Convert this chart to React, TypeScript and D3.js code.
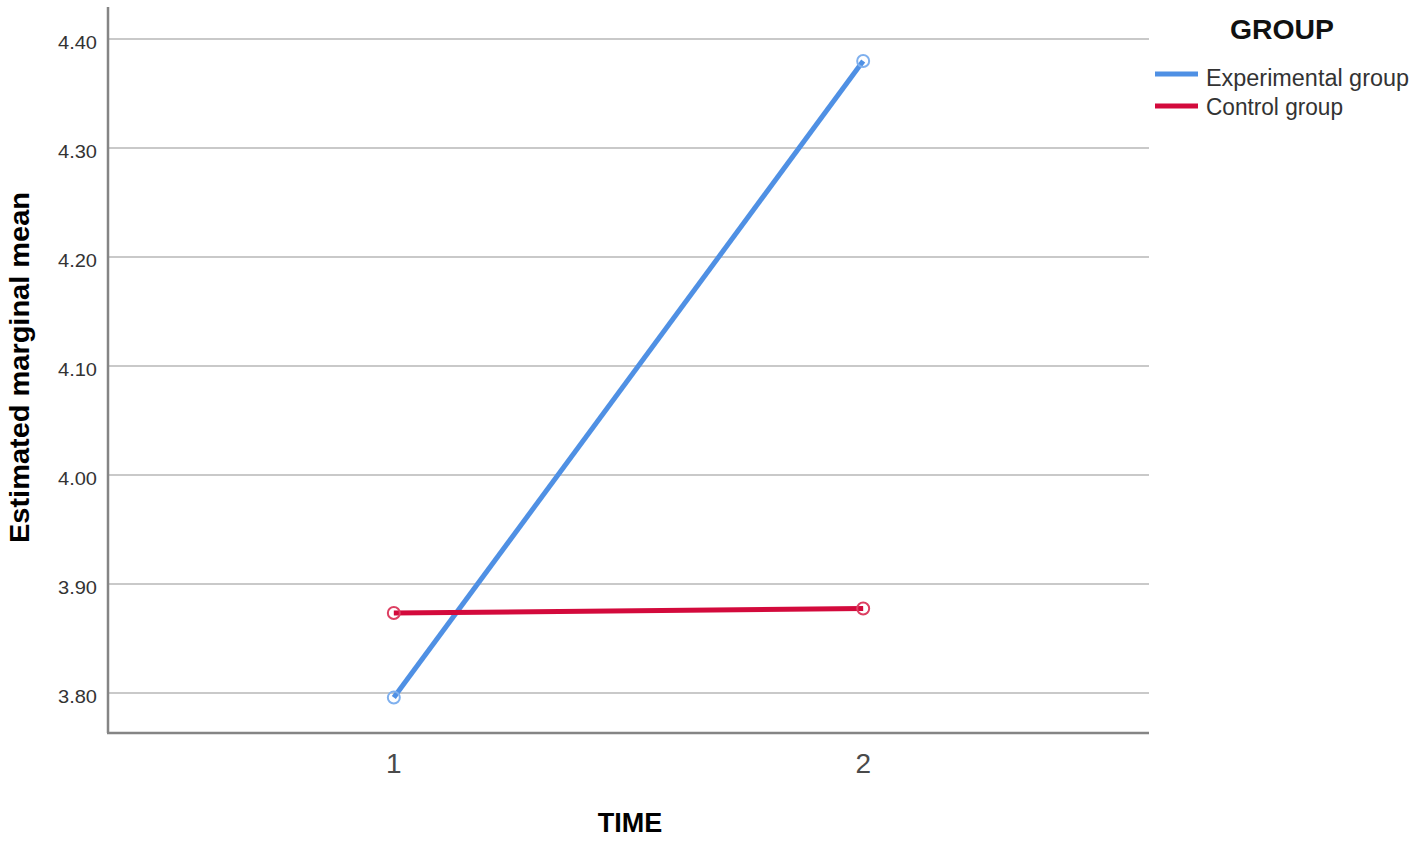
import React from "react";
import * as d3 from "d3";

const times = ["1", "2"];
const experimentalValues = [3.7958, 4.3798];
const controlValues = [3.8734, 3.8775];
const yTicks = [3.8, 3.9, 4.0, 4.1, 4.2, 4.3, 4.4];
const seriesNames = ["Experimental group", "Control group"];
const seriesColors = ["#4f90e4", "#d30a3c"];
const markerColors = ["#7fb0ee", "#dd3f62"];

const W = 1418;
const H = 841;
const left = 108;
const right = 1149;
const top = 7;
const bottom = 733;

export default function App() {
  const x = d3.scalePoint<string>().domain(times).range([left, right]).padding(0.609);
  const y = d3.scaleLinear().domain([3.7633, 4.4294]).range([bottom, top]);
  const line = d3
    .line<number>()
    .x((_, i) => x(times[i]) as number)
    .y((d) => y(d));
  const series = [experimentalValues, controlValues];
  const font = "'Liberation Sans', Arial, sans-serif";

  return (
    <svg
      width={W}
      height={H}
      style={{ position: "fixed", left: 0, top: 0, background: "#fff" }}
      fontFamily={font}
    >
      <rect x={0} y={0} width={W} height={H} fill="#fff" />
      {yTicks.map((t) => (
        <g key={t}>
          <line x1={left} x2={right} y1={y(t)} y2={y(t)} stroke="#c9c9c9" strokeWidth={2} />
          <text
            x={97}
            y={y(t) + 10}
            textAnchor="end"
            fontSize={19}
            fill="#333"
            textLength={39}
            lengthAdjust="spacingAndGlyphs"
          >
            {d3.format(".2f")(t)}
          </text>
        </g>
      ))}
      <line x1={left} x2={left} y1={top} y2={bottom} stroke="#858585" strokeWidth={2.5} />
      <line x1={left - 1} x2={right} y1={bottom} y2={bottom} stroke="#858585" strokeWidth={2.5} />
      {times.map((t) => (
        <text key={t} x={x(t)} y={773} textAnchor="middle" fontSize={28} fill="#4a4a4a">
          {t}
        </text>
      ))}
      <text x={630} y={832} textAnchor="middle" fontSize={27} fontWeight="bold" fill="#000">
        TIME
      </text>
      <text
        transform={`translate(29, 367.5) rotate(-90)`}
        textAnchor="middle"
        fontSize={28}
        fontWeight="bold"
        fill="#000"
        textLength={351}
        lengthAdjust="spacingAndGlyphs"
      >
        Estimated marginal mean
      </text>
      {series.map((vals, si) => (
        <g key={si}>
          <path d={line(vals) || ""} fill="none" stroke={seriesColors[si]} strokeWidth={5} />
          {vals.map((v, i) => (
            <circle
              key={i}
              cx={x(times[i]) as number}
              cy={y(v)}
              r={6}
              fill="none"
              stroke={markerColors[si]}
              strokeWidth={2}
            />
          ))}
        </g>
      ))}
      <text
        x={1230}
        y={39}
        fontSize={28}
        fontWeight="bold"
        fill="#111"
        textLength={104}
        lengthAdjust="spacingAndGlyphs"
      >
        GROUP
      </text>
      {seriesNames.map((name, i) => (
        <g key={name}>
          <line
            x1={1155}
            x2={1198}
            y1={74 + i * 32}
            y2={74 + i * 32}
            stroke={seriesColors[i]}
            strokeWidth={5}
          />
          <text
            x={1206}
            y={86 + i * 29}
            fontSize={23}
            fill="#333"
            textLength={i === 0 ? 203 : 137}
            lengthAdjust="spacingAndGlyphs"
          >
            {name}
          </text>
        </g>
      ))}
    </svg>
  );
}
